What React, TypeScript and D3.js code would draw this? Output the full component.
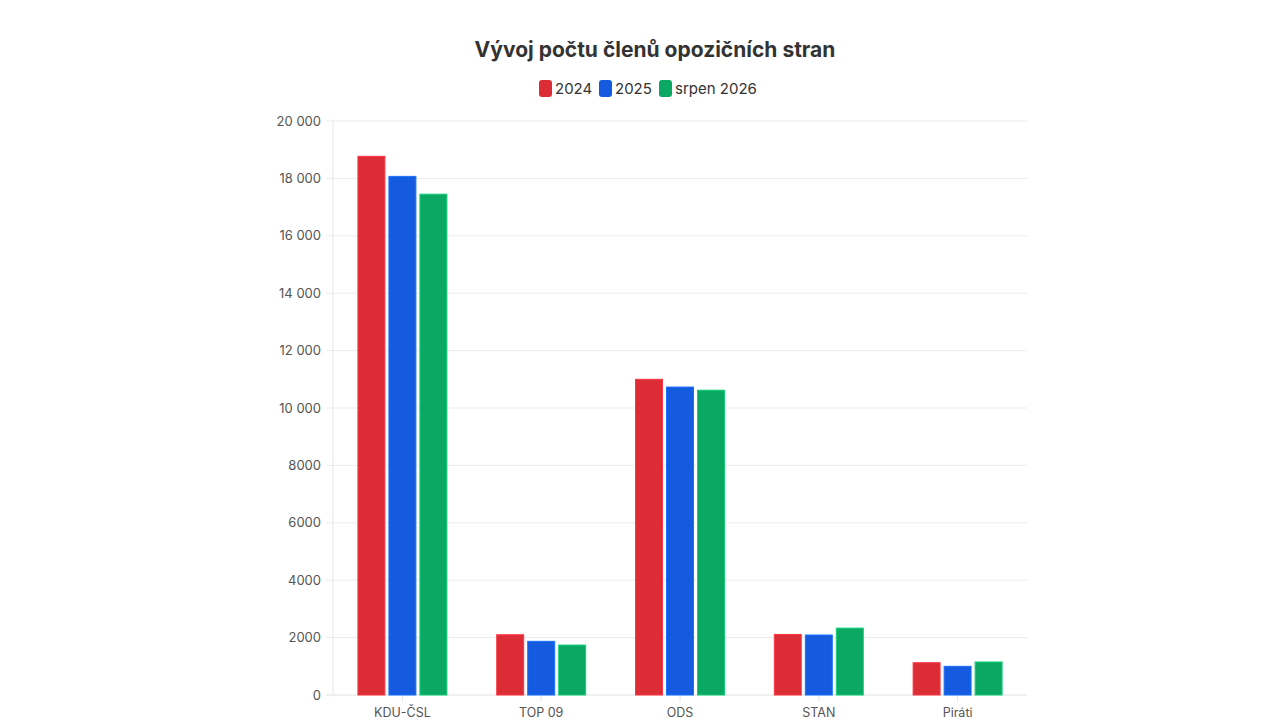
import { useEffect, useRef } from "react";
import * as d3 from "d3";

const parties = ["KDU-ČSL", "TOP 09", "ODS", "STAN", "Piráti"];
const seriesNames = ["2024", "2025", "srpen 2026"];
const seriesColors = ["#dc2c36", "#145be0", "#0aa862"];
const values2024 = [18770, 2100, 11000, 2110, 1125];
const values2025 = [18070, 1870, 10730, 2090, 1000];
const values2026 = [17450, 1740, 10620, 2330, 1150];
const yTicks = [0, 2000, 4000, 6000, 8000, 10000, 12000, 14000, 16000, 18000, 20000];

const FONT = "Inter, 'Noto Sans', sans-serif";

export default function App() {
  const svgRef = useRef<SVGSVGElement>(null);

  useEffect(() => {
    if (!svgRef.current) return;
    d3.select(svgRef.current).selectAll("*").remove();

    const width = 1280;
    const height = 720;
    const margin = { top: 121, right: 253, bottom: 25, left: 333 };
    const series = [values2024, values2025, values2026];

    const svg = d3.select(svgRef.current)
      .attr("width", width)
      .attr("height", height)
      .attr("viewBox", `0 0 ${width} ${height}`)
      .style("font-family", FONT);

    svg.append("rect").attr("width", width).attr("height", height).attr("fill", "#fff");

    const x0 = d3.scaleBand<string>()
      .domain(parties)
      .range([margin.left, width - margin.right]);

    // the three bars of a group take ~93px of each 139px band
    const groupW = 93;
    const x1 = d3.scaleBand<string>()
      .domain(seriesNames)
      .range([(x0.bandwidth() - groupW) / 2, (x0.bandwidth() + groupW) / 2])
      .paddingInner(0.13)
      .paddingOuter(0.065);

    const y = d3.scaleLinear()
      .domain([0, 20000])
      .range([height - margin.bottom, margin.top]);

    const fmt = (v: number) => v >= 10000 ? d3.format(",")(v).replace(",", " ") : String(v);

    // grid
    const grid = svg.append("g");
    grid.selectAll("line.h")
      .data(yTicks)
      .enter().append("line")
      .attr("x1", margin.left - 7)
      .attr("x2", width - margin.right)
      .attr("y1", d => y(d))
      .attr("y2", d => y(d))
      .attr("stroke", d => d === 0 ? "#e0e0e0" : "#ebebeb")
      .attr("stroke-width", 1);
    grid.append("line")
      .attr("x1", margin.left).attr("x2", margin.left)
      .attr("y1", y(20000)).attr("y2", y(0))
      .attr("stroke", "#e6e6e6");
    grid.selectAll("line.t")
      .data(parties)
      .enter().append("line")
      .attr("x1", d => (x0(d) ?? 0) + x0.bandwidth() / 2)
      .attr("x2", d => (x0(d) ?? 0) + x0.bandwidth() / 2)
      .attr("y1", y(0))
      .attr("y2", y(0) + 7)
      .attr("stroke", "#e6e6e6");

    // y labels
    svg.append("g").selectAll("text")
      .data(yTicks)
      .enter().append("text")
      .attr("x", margin.left - 12)
      .attr("y", d => y(d))
      .attr("dy", "0.35em")
      .attr("text-anchor", "end")
      .style("font-size", "13px")
      .style("fill", "#555")
      .text(d => fmt(d));

    // x labels
    svg.append("g").selectAll("text")
      .data(parties)
      .enter().append("text")
      .attr("x", d => (x0(d) ?? 0) + x0.bandwidth() / 2)
      .attr("y", y(0) + 22)
      .attr("text-anchor", "middle")
      .style("font-size", "12.5px")
      .style("fill", "#555")
      .text(d => d);

    // bars
    const groups = svg.append("g").selectAll("g")
      .data(parties)
      .enter().append("g")
      .attr("transform", d => `translate(${x0(d)},0)`);

    groups.selectAll("rect")
      .data((_, i) => seriesNames.map((s, k) => ({ s, k, v: series[k][i] })))
      .enter().append("rect")
      .attr("x", d => x1(d.s) ?? 0)
      .attr("width", x1.bandwidth())
      .attr("y", d => y(d.v))
      .attr("height", d => y(0) - y(d.v))
      .attr("fill", d => seriesColors[d.k])
      .attr("stroke", d => d3.color(seriesColors[d.k])!.brighter(0.6).formatHex())
      .attr("stroke-width", 1);

    // title
    svg.append("text")
      .attr("x", 655)
      .attr("y", 57)
      .attr("text-anchor", "middle")
      .style("font-size", "21px")
      .style("font-weight", "bold")
      .style("fill", "#333")
      .text("Vývoj počtu členů opozičních stran");

    // legend
    const legendX = [539, 599, 659];
    const legend = svg.append("g").selectAll("g")
      .data(seriesNames)
      .enter().append("g")
      .attr("transform", (_, i) => `translate(${legendX[i]},80)`);
    legend.append("rect")
      .attr("width", 13)
      .attr("height", 17)
      .attr("rx", 3)
      .attr("fill", (_, i) => seriesColors[i]);
    legend.append("text")
      .attr("x", 16)
      .attr("y", 9)
      .attr("dy", "0.35em")
      .style("font-size", "15px")
      .style("fill", "#333")
      .text(d => d);
  }, []);

  return (
    <div style={{ position: "fixed", top: 0, left: 0, width: 1280, height: 720, overflow: "hidden", background: "#fff" }}>
      <svg ref={svgRef} style={{ display: "block" }}></svg>
    </div>
  );
}
